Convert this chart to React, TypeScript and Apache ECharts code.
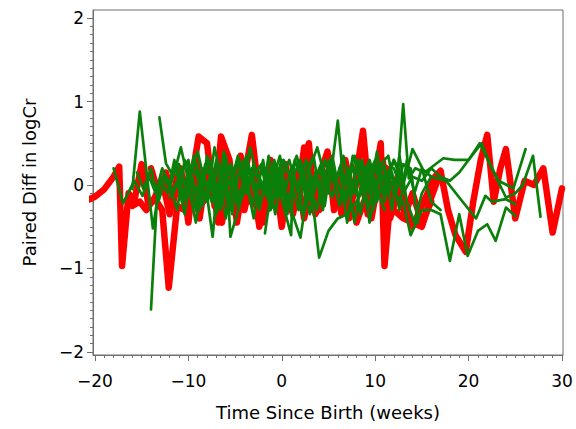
import React, { useEffect, useRef } from "react";
import * as echarts from "echarts";

type Pt = [number, number];

// Tick labels
const xMajorTicks = [-20, -10, 0, 10, 20, 30];
const yMajorTicks = [-2, -1, 0, 1, 2];

// Red (thick) subject trajectories
const red1: Pt[] = [
  [-21, -0.19], [-20, -0.14], [-19, -0.05], [-18, 0.1], [-17.4, 0.22], [-17.1, -0.97], [-16.4, -0.1], [-15.8, -0.2],
  [-15, 0.25], [-14.3, -0.22], [-13.5, -0.18], [-12.8, -0.3], [-12.1, -1.23], [-11.2, -0.25], [-10.4, -0.3], [-9.6, 0.1],
  [-8.9, 0.58], [-8, 0.5], [-7.2, -0.25], [-6.5, 0.58], [-5.6, 0.3], [-4.8, -0.45], [-4, 0.1], [-3.2, 0.6],
  [-2.4, -0.15], [-1.6, -0.3], [-0.8, 0.2], [0, -0.5], [0.8, 0.1], [1.6, -0.2], [2.4, 0.45], [3.2, -0.3],
  [4, 0.1], [4.9, 0.4], [5.6, -0.3], [6.4, 0.2], [7.2, -0.4], [8, 0.15], [8.7, 0.65], [9.4, -0.2],
  [10, 0.1], [10.6, 0.5], [11, -0.97], [11.6, -0.2], [12.4, 0.1], [13.2, -0.3], [14, -0.5], [14.8, -0.3],
  [15.6, -0.1], [16.4, 0.1], [17, 0.17], [17.8, -0.3], [18.6, -0.6], [19.7, -0.8], [20.5, -0.2], [21.3, 0.3],
  [22, 0.6], [22.7, -0.2], [23.4, 0.2], [24, 0.43], [25, -0.4], [26, 0.05], [27, 0.0], [28, 0.2], [29, -0.57], [30, -0.04],
];
const red2: Pt[] = [
  [-14, 0.2], [-13.2, -0.1], [-12.4, 0.15], [-11.6, -0.2], [-10.8, 0.2], [-10, -0.45], [-9.2, 0.3], [-8.4, -0.2],
  [-7.6, 0.15], [-6.8, -0.45], [-6, 0.3], [-5.2, -0.25], [-4.4, 0.35], [-3.6, -0.2], [-2.8, 0.2], [-2, -0.45],
  [-1.2, 0.3], [-0.4, -0.1], [0.4, 0.25], [1.2, -0.35], [2, 0.1], [2.9, 0.5], [3.6, -0.35], [4.4, -0.1],
  [5.2, 0.2], [6, -0.2], [6.8, 0.3], [7.6, -0.15], [8.4, 0.2], [9.2, -0.35], [10, -0.1], [10.8, 0.3],
  [11.6, -0.4], [12.4, -0.1], [13.2, -0.35], [14, -0.1], [15, -0.45], [16, -0.2],
];
const red3: Pt[] = [
  [-16, -0.25], [-15.2, -0.2], [-14.5, -0.3], [-13.6, -0.15], [-12.8, 0.05], [-12, -0.35], [-11.2, 0.1], [-10.4, -0.2],
  [-9.6, 0.2], [-8.8, -0.4], [-8, 0.2], [-7.2, -0.1], [-6.4, -0.45], [-5.6, 0.1], [-4.8, 0.2], [-4, -0.3],
  [-3.2, 0.1], [-2.4, -0.5], [-1.6, 0.1], [-0.8, -0.25], [0, 0.2], [0.8, -0.3], [1.6, 0.15], [2.4, -0.4],
  [3.2, 0.05], [4, -0.3], [4.8, 0.15], [5.6, 0.1], [6.4, -0.35], [7.2, 0.0], [8, -0.45], [8.8, -0.2],
  [9.6, -0.4], [10.4, 0.1], [11.2, 0.2], [12, -0.3], [13, -0.4], [14, -0.45], [15, -0.5], [16, -0.15], [17, 0.15],
];

// Green (thin) subject trajectories
const green1: Pt[] = [
  [-16, -0.05], [-15.2, 0.88], [-13.8, -0.52], [-13, 0.05], [-12.2, -0.1], [-11.5, 0.3], [-10.7, -0.15], [-10, 0.2],
  [-9.2, -0.3], [-8.5, 0.15], [-7.8, -0.1], [-7, 0.3], [-6.2, -0.05], [-5.4, 0.25], [-4.6, -0.2], [-3.8, 0.1],
];
const green2: Pt[] = [
  [-13.1, 0.81], [-12.4, 0.26], [-11.6, 0.1], [-10.8, 0.45], [-10, 0.05], [-9.3, 0.3], [-8.5, -0.25], [-7.7, 0.1],
  [-7, -0.35], [-6.2, 0.2], [-5.5, 0.0], [-4.7, 0.35], [-4, -0.1], [-3.2, 0.2], [-2.4, -0.3], [-1.6, 0.15], [-0.8, 0.0], [0, 0.3],
];
const green3: Pt[] = [
  [-14, -1.49], [-13.3, -0.04], [-12.6, 0.12], [-12, -0.05], [-11.3, 0.25], [-10.5, -0.2], [-9.8, 0.15], [-9, 0.4],
  [-8.2, 0.0], [-7.5, -0.2], [-6.8, 0.25], [-6, -0.4], [-5.2, 0.1], [-4.5, 0.3], [-3.7, -0.1], [-3, 0.25],
  [-2.2, -0.05], [-1.5, 0.2], [-0.7, -0.35], [0, 0.1], [0.8, 0.3], [1.6, -0.05], [2.4, 0.25],
];
const green4: Pt[] = [
  [-18, 0.2], [-17, -0.22], [-15.8, 0.05], [-14.9, -0.13], [-14.2, 0.1], [-13.5, -0.1], [-12.8, 0.2], [-12, 0.0],
  [-11.2, -0.3], [-10.4, 0.3], [-9.6, 0.1], [-8.8, -0.3], [-8, 0.35], [-7.2, 0.1], [-6.5, -0.2],
];
const green5: Pt[] = [
  [-15.5, 0.15], [-14.8, -0.05], [-14, 0.2], [-13.2, -0.2], [-12.4, 0.1], [-11.6, -0.1], [-10.8, 0.15], [-10, 0.3],
  [-9.2, -0.1], [-8.4, 0.2], [-7.4, -0.62], [-6.9, 0.0], [-6.1, 0.1], [-5.3, -0.35], [-4.6, 0.15], [-3.8, 0.05],
  [-3, -0.4], [-2.2, 0.2], [-1.4, 0.05], [-0.6, 0.25], [0.2, -0.15], [1, 0.2],
];
const green6: Pt[] = [
  [-12, -0.15], [-11.2, 0.05], [-10.4, -0.35], [-9.6, 0.2], [-8.8, 0.05], [-8, -0.2], [-7.2, 0.45], [-6.4, 0.05],
  [-5.6, -0.3], [-4.8, 0.1], [-4, 0.3], [-3.2, -0.25], [-2.4, 0.1], [-1.6, -0.15], [-0.8, 0.3], [0, -0.1],
  [0.8, 0.1], [1.6, 0.35], [2.4, 0.0], [3.2, -0.2], [4, 0.2], [4.8, -0.05],
];
const green7: Pt[] = [
  [-3, 0.1], [-2.2, 0.25], [-1.4, -0.2], [-0.6, 0.15], [0.2, 0.0], [1, -0.3], [2, -0.63], [3, 0.1],
  [4, -0.87], [5, -0.55], [6, -0.4], [7, -0.35], [8, -0.2], [9, 0.0], [10, 0.2], [11, 0.05], [12, 0.3], [13, 0.1],
];
const green8: Pt[] = [
  [1, 0.2], [1.8, -0.1], [2.6, 0.3], [3.4, 0.0], [4.2, 0.25], [5, -0.1], [6, 0.77], [6.8, -0.2],
  [7.6, 0.25], [8.4, -0.35], [9.2, 0.1], [10, 0.3], [10.8, -0.1], [11.6, 0.2],
];
const green9: Pt[] = [
  [7, 0.1], [7.8, 0.35], [8.6, -0.05], [9.4, 0.25], [10.2, -0.2], [11, 0.15], [11.8, 0.0], [12.4, 0.08],
  [13, 0.97], [13.6, 0.08], [14.3, 0.2], [15.3, 0.15], [17.3, 0.32], [18.5, 0.3], [20, 0.3], [21.4, 0.5],
  [22.3, 0.25], [23.2, 0.05], [24.8, -0.04], [26.1, 0.43],
];
const green10: Pt[] = [
  [-1.8, -0.58], [-1, 0.05], [-0.2, 0.35], [0.6, -0.2], [1.4, 0.1], [2.2, -0.35], [3, 0.2], [3.8, 0.45],
  [4.6, 0.1], [5.4, -0.15], [6.2, 0.2], [7, -0.45], [7.8, 0.1], [8.6, 0.3], [9.4, -0.1], [10.2, 0.4],
  [11, -0.2], [11.8, 0.15], [12.6, -0.3], [13.4, 0.3], [14.2, -0.1], [15, 0.2], [16, -0.2], [17, -0.3],
];
const green11: Pt[] = [
  [11, 0.1], [12, -0.1], [13, -0.2], [13.8, -0.6], [15, -0.3], [16, -0.3], [17, -0.35], [18, -0.91],
  [19, -0.35], [19.9, -0.85], [21, -0.55], [22, -0.47], [22.9, -0.67], [24, -0.27], [25, -0.37],
];
const green12: Pt[] = [
  [9, -0.1], [10, 0.2], [11, -0.1], [12, 0.3], [13, 0.0], [14, 0.43], [15.1, 0.19], [16, 0.1],
  [17.6, 0.05], [19, -0.15], [20.8, -0.4], [21.8, -0.13], [22.5, -0.2], [24, -0.17], [25, -0.23],
];
const green13: Pt[] = [
  [12, 0.2], [13, -0.1], [14, 0.1], [15, 0.05], [16, 0.2], [17, 0.1], [18, 0.05], [19, 0.15],
  [20, 0.3], [21.2, 0.5], [22.5, 0.2], [24, -0.15], [25, -0.1], [25.8, 0.0], [26.9, 0.35], [27.7, -0.38],
];
const green14: Pt[] = [
  [-10, 0.0], [-9.2, -0.45], [-8.4, 0.1], [-7.6, 0.2], [-6.8, -0.1], [-6, 0.35], [-5.5, -0.62], [-4.4, -0.2],
  [-3.6, 0.2], [-2.8, -0.15], [-2, 0.3], [-1.2, -0.3], [-0.4, 0.0], [1, -0.6], [1.2, 0.1], [2, 0.3],
  [2.8, -0.2], [3.6, 0.15], [4.4, -0.3], [5.2, 0.25], [6, 0.0], [6.8, -0.25], [7.6, 0.35], [8.4, 0.1], [9.2, -0.3], [10, 0.05],
];
const green15: Pt[] = [
  [3, 0.0], [3.8, -0.3], [4.6, 0.3], [5.4, 0.1], [6.2, -0.25], [7, 0.2], [7.8, -0.1], [8.6, 0.25],
  [9.4, -0.45], [10.2, 0.05], [11, 0.25], [11.8, -0.3], [12.6, 0.35], [13.4, -0.2], [14.2, -0.45], [15, -0.1], [16, 0.1],
];
const green16: Pt[] = [
  [-11, 0.25], [-10.2, -0.1], [-9.4, 0.35], [-8.6, 0.05], [-7.8, 0.3], [-7, -0.2], [-6.2, 0.4], [-5.4, 0.1],
  [-4.6, -0.3], [-3.8, 0.35], [-3, 0.0], [-2.2, -0.2], [-1.4, 0.35], [-0.6, -0.15], [0.2, 0.3], [1, 0.05],
  [1.8, -0.3], [2.6, 0.15], [3.4, 0.35], [4.2, -0.2], [5, 0.3], [5.8, 0.05], [6.6, 0.35], [7.4, -0.1],
  [8.2, 0.3], [9, 0.15], [9.8, -0.3], [10.6, 0.25], [11.4, 0.35], [12.2, -0.1], [13, 0.25], [13.8, 0.2], [14.6, -0.45],
];
const green17: Pt[] = [
  [-9, -0.25], [-8.2, 0.25], [-7.4, 0.05], [-6.6, -0.3], [-5.8, 0.2], [-5, 0.0], [-4.2, -0.15], [-3.4, 0.45],
  [-2.6, 0.1], [-1.8, 0.2], [-1, -0.2], [-0.2, 0.15], [0.6, -0.35], [1.4, 0.3], [2.2, 0.05], [3, -0.35],
  [3.8, 0.1], [4.6, -0.25], [5.4, 0.35], [6.2, -0.1], [7, 0.05], [7.8, -0.45], [8.6, 0.1], [9.4, 0.3], [10.2, -0.05], [11, -0.3],
];

const redSeries = [red1, red2, red3];
const greenSeries = [
  green1, green2, green3, green4, green5, green6, green7, green8, green9,
  green10, green11, green12, green13, green14, green15, green16, green17,
];

const X_MIN = -20.21;
const X_MAX = 30.11;
const Y_MIN = -2.036;
const Y_MAX = 2.096;

const FONT = "DejaVu Sans";
const AXIS_COLOR = "#6f6f6f";

const fmt = (v: number) => String(v).replace("-", "\u2212");

export default function App() {
  const ref = useRef<HTMLDivElement>(null);

  useEffect(() => {
    if (!ref.current) return;
    const chart = echarts.init(ref.current, undefined, { renderer: "svg" });

    const xMinor: number[] = [];
    for (let v = -20; v <= 30; v += 1) xMinor.push(v);
    const yMinor: number[] = [];
    for (let i = -20; i <= 20; i += 1) yMinor.push(i / 10);

    const series: any[] = [];
    redSeries.forEach((d, i) =>
      series.push({
        name: "red" + i,
        type: "line",
        data: d,
        showSymbol: false,
        silent: true,
        xAxisIndex: 0,
        yAxisIndex: 0,
        lineStyle: { color: "#ff0000", width: 6.5, cap: "round", join: "round" },
        itemStyle: { color: "#ff0000" },
        z: 2,
      })
    );
    greenSeries.forEach((d, i) =>
      series.push({
        name: "green" + i,
        type: "line",
        data: d,
        showSymbol: false,
        silent: true,
        xAxisIndex: 0,
        yAxisIndex: 0,
        lineStyle: { color: "#0a800a", width: 2.7, cap: "round", join: "round" },
        itemStyle: { color: "#0a800a" },
        z: 3,
      })
    );

    chart.setOption({
      animation: false,
      backgroundColor: "#ffffff",
      grid: {
        left: 93,
        right: 13,
        top: 10,
        bottom: 74,
        show: true,
        borderColor: AXIS_COLOR,
        borderWidth: 1,
        backgroundColor: "transparent",
      },
      xAxis: [
        {
          type: "value",
          min: X_MIN,
          max: X_MAX,
          position: "bottom",
          splitLine: { show: false },
          axisLine: { show: true, onZero: false, lineStyle: { color: AXIS_COLOR, width: 1 } },
          axisTick: { show: true, customValues: xMajorTicks, length: 6, lineStyle: { color: AXIS_COLOR } },
          axisLabel: {
            customValues: xMajorTicks,
            formatter: fmt,
            fontFamily: FONT,
            fontSize: 17,
            color: "#000",
            margin: 17,
          },
          name: "Time Since Birth (weeks)",
          nameLocation: "middle",
          nameGap: 48,
          nameTextStyle: { fontFamily: FONT, fontSize: 18, color: "#000" },
        },
        {
          type: "value",
          min: X_MIN,
          max: X_MAX,
          position: "bottom",
          splitLine: { show: false },
          axisLine: { show: false, onZero: false },
          axisTick: { show: true, customValues: xMinor, length: 3, lineStyle: { color: AXIS_COLOR } },
          axisLabel: { show: false },
        },
      ],
      yAxis: [
        {
          type: "value",
          min: Y_MIN,
          max: Y_MAX,
          position: "left",
          splitLine: { show: false },
          axisLine: { show: true, onZero: false, lineStyle: { color: AXIS_COLOR, width: 1 } },
          axisTick: { show: true, customValues: yMajorTicks, length: 6, lineStyle: { color: AXIS_COLOR } },
          axisLabel: {
            customValues: yMajorTicks,
            formatter: fmt,
            fontFamily: FONT,
            fontSize: 17,
            color: "#000",
            margin: 9,
          },
          name: "Paired Diff in logCr",
          nameLocation: "middle",
          nameGap: 55,
          nameTextStyle: { fontFamily: FONT, fontSize: 18, color: "#000" },
        },
        {
          type: "value",
          min: Y_MIN,
          max: Y_MAX,
          position: "left",
          splitLine: { show: false },
          axisLine: { show: false, onZero: false },
          axisTick: { show: true, customValues: yMinor, length: 3, lineStyle: { color: AXIS_COLOR } },
          axisLabel: { show: false },
        },
      ],
      series,
    });

    return () => chart.dispose();
  }, []);

  return (
    <div
      ref={ref}
      style={{ position: "fixed", left: 0, top: 0, width: 576, height: 429, background: "#fff" }}
    />
  );
}
